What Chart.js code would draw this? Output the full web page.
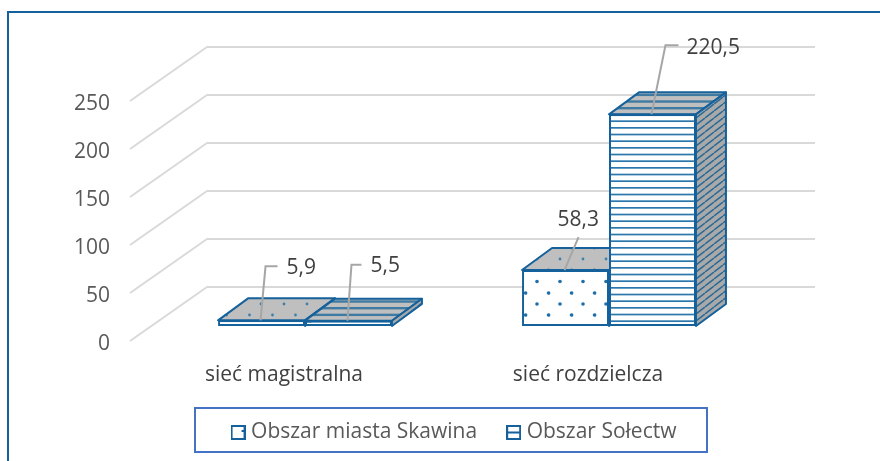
<!DOCTYPE html>
<html><head><meta charset="utf-8">
<style>html,body{margin:0;padding:0;background:#fff}#w{position:relative;width:880px;height:461px}</style>
<script src="https://cdn.jsdelivr.net/npm/chart.js@4"></script></head>
<body><div id="w"><canvas id="c" width="880" height="461"></canvas></div>
<script>
const categories = ['sieć magistralna', 'sieć rozdzielcza'];
const seriesNames = ['Obszar miasta Skawina', 'Obszar Sołectw'];
const miastoValues = [5.9, 58.3];
const solectwaValues = [5.5, 220.5];
const valueTicks = [0, 50, 100, 150, 200, 250];

const EDGE = '#14619b', FONT = '"Open Sans"';
const SHIFT = {x: 21, y: -15}, DEPTH = {x: 30, y: -22}, WALL = {x: 77, y: -54};
// leader elbow and text anchor, relative to the top centre of each bar
const LEADERS = [
  [{ex: 5, ey: -54, tx: 26, ty: -52, lx: 17}, {ex: 4, ey: -56, tx: 23, ty: -55, lx: 14}],
  [{ex: 14, ey: -33, tx: -7, ty: -50, lx: 14}, {ex: 14, ey: -69, tx: 35, ty: -66, lx: 27}]
];

function tile(w, h, draw) {
  const t = document.createElement('canvas'); t.width = w; t.height = h;
  draw(t.getContext('2d')); return t;
}
const ctxMain = document.getElementById('c').getContext('2d');
const dots = (bg, col, r) => ctxMain.createPattern(tile(23, 45, g => {
  g.fillStyle = bg; g.fillRect(0, 0, 23, 45); g.fillStyle = col;
  [[10, 4], [10, 26.5], [21.5, 15], [21.5, 38], [-1.5, 15], [-1.5, 38]].forEach(p => {
    g.beginPath(); g.arc(p[0], p[1], r, 0, 7); g.fill();
  });
}), 'repeat');
const stripes = (bg, col, lw) => ctxMain.createPattern(tile(20, 20, g => {
  g.fillStyle = bg; g.fillRect(0, 0, 20, 20); g.fillStyle = col;
  [2, 8.67, 15.33].forEach(y => g.fillRect(0, y, 20, lw));
}), 'repeat');
const slashes = (bg, col) => ctxMain.createPattern(tile(9, 7, g => {
  g.fillStyle = bg; g.fillRect(0, 0, 9, 7); g.strokeStyle = col; g.lineWidth = 1.5;
  [-1, 0, 1].forEach(k => {
    g.beginPath(); g.moveTo(k * 9, 7); g.lineTo(k * 9 + 9, 0); g.stroke();
  });
}), 'repeat');

const fronts = [dots('#ffffff', '#1f6ea8', 1.8), stripes('#ffffff', '#2a76ad', 1.7)];
const tops = [dots('#bfbfbf', '#3f7fac', 1.4), stripes('#bfbfbf', '#3f7aa3', 2.4)];
const sides = [slashes('#a9a9a9', '#2b6a96'), slashes('#a9a9a9', '#2b6a96')];

const swatch = (mark) => tile(15, 15, g => {
  g.fillStyle = '#fff'; g.fillRect(0, 0, 15, 15);
  g.strokeStyle = EDGE; g.lineWidth = 2; g.strokeRect(1, 1, 13, 13);
  g.fillStyle = EDGE;
  if (mark) g.fillRect(1, 6.5, 13, 2); else g.fillRect(11, 5, 2, 2);
});

function poly(c, pts, fill) {
  c.beginPath(); pts.forEach((p, i) => i ? c.lineTo(p[0], p[1]) : c.moveTo(p[0], p[1]));
  c.closePath(); c.fillStyle = fill; c.fill();
  c.strokeStyle = EDGE; c.lineWidth = 2; c.lineJoin = 'round'; c.stroke();
}

const scene = {
  id: 'scene',
  afterLayout(ch) {
    const l = ch.legend;
    l.left += 56; l.right += 56;
  },
  beforeDraw(ch) {
    const c = ch.ctx, y = ch.scales.y, a = ch.chartArea;
    c.save(); c.fillStyle = '#fff'; c.fillRect(0, 0, 880, 461);
    c.strokeStyle = EDGE; c.lineWidth = 2;
    c.beginPath(); c.moveTo(8, 461); c.lineTo(8, 12); c.lineTo(880, 12); c.stroke();
    c.strokeStyle = '#d9d9d9'; c.lineWidth = 2; c.lineJoin = 'round';
    y.ticks.forEach(t => {
      const p = y.getPixelForValue(t.value);
      c.beginPath(); c.moveTo(a.left - 2, p);
      c.lineTo(a.left - 2 + WALL.x, p + WALL.y);
      c.lineTo(a.right - 2 + WALL.x, p + WALL.y); c.stroke();
    });
    c.restore();
  },
  beforeDatasetsDraw(ch) {
    const c = ch.ctx;
    c.save(); c.translate(SHIFT.x, SHIFT.y);
    [0, 1].forEach(col => [0, 1].forEach(ds => {
      const b = ch.getDatasetMeta(ds).data[col], l = b.x - b.width / 2, r = b.x + b.width / 2;
      const dx = DEPTH.x, dy = DEPTH.y;
      poly(c, [[l, b.y], [l + dx, b.y + dy], [r + dx, b.y + dy], [r, b.y]], tops[ds]);
      poly(c, [[r, b.y], [r + dx, b.y + dy], [r + dx, b.base + dy], [r, b.base]], sides[ds]);
    }));
  },
  afterDatasetsDraw(ch) {
    const c = ch.ctx;
    c.restore();
    c.save();
    c.font = '21px ' + FONT; c.fillStyle = '#404040'; c.textBaseline = 'middle';
    [0, 1].forEach(col => [0, 1].forEach(ds => {
      const b = ch.getDatasetMeta(ds).data[col], L = LEADERS[col][ds];
      const v = ch.data.datasets[ds].data[col];
      const x = b.x + SHIFT.x - 1, y = b.y + SHIFT.y;
      c.strokeStyle = '#a6a6a6'; c.lineWidth = 2;
      c.beginPath(); c.moveTo(x, y); c.lineTo(x + L.ex, y + L.ey);
      if (L.lx > L.ex + 4) c.lineTo(x + L.lx, y + L.ey);
      c.stroke();
      c.fillText(String(v).replace('.', ','), x + L.tx, y + L.ty);
    }));
    c.restore();
  },
  afterDraw(ch) {
    const c = ch.ctx;
    c.save(); c.strokeStyle = '#4472c4'; c.lineWidth = 2;
    c.strokeRect(195, 408, 512, 44); c.restore();
  }
};

new Chart(document.getElementById('c'), {
  type: 'bar',
  data: {
    labels: categories,
    datasets: [
      {label: seriesNames[0], data: miastoValues, backgroundColor: fronts[0]},
      {label: seriesNames[1], data: solectwaValues, backgroundColor: fronts[1]}
    ]
  },
  options: {
    responsive: false, animation: false,
    layout: {padding: {left: 60, right: 140, top: 101, bottom: 8}},
    datasets: {bar: {borderColor: EDGE, borderWidth: 2, borderSkipped: false, barPercentage: 1, categoryPercentage: 0.572, clip: false}},
    scales: {
      x: {
        grid: {display: false, drawTicks: false}, border: {display: false},
        ticks: {color: '#404040', font: {family: FONT, size: 21}, padding: 21, maxRotation: 0},
        afterFit(s) { s.height = 47; }
      },
      y: {
        min: 0, max: 250,
        afterBuildTicks(s) { s.ticks = valueTicks.map(v => ({value: v})); },
        grid: {display: false, drawTicks: false}, border: {display: false},
        ticks: {color: '#595959', font: {family: FONT, size: 21}, padding: 22, labelOffset: 3},
        afterFit(s) { s.width = 72; }
      }
    },
    plugins: {
      tooltip: {enabled: false},
      legend: {
        position: 'bottom',
        labels: {
          usePointStyle: true, pointStyleWidth: 5, padding: 34, color: '#595959',
          font: {family: FONT, size: 21},
          generateLabels: () => seriesNames.map((n, i) => ({
            text: n, pointStyle: swatch(i), fontColor: '#595959', fillStyle: '#fff', strokeStyle: EDGE, lineWidth: 0, datasetIndex: i, hidden: false
          }))
        }
      }
    }
  },
  plugins: [scene]
});
</script></body></html>
